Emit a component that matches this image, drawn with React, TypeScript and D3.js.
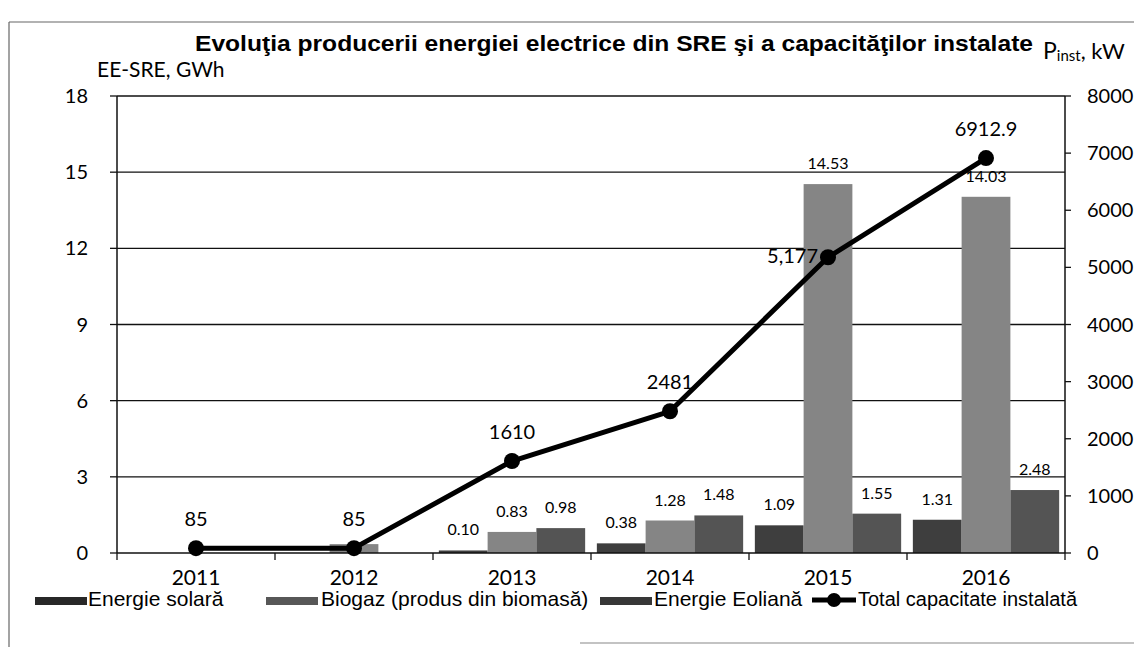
import React from 'react';
import * as d3 from 'd3';

// values
const years = ['2011', '2012', '2013', '2014', '2015', '2016'];
const solar = [0, 0, 0.10, 0.38, 1.09, 1.31];
const biogaz = [0, 0.35, 0.83, 1.28, 14.53, 14.03];
const eolian = [0, 0, 0.98, 1.48, 1.55, 2.48];
const totalCap = [85, 85, 1610, 2481, 5177, 6912.9];
const totalCapLabels = ['85', '85', '1610', '2481', '5,177', '6912.9'];
const capLabelSide = ['top', 'top', 'top', 'top', 'left', 'top'];
const leftTicks = [0, 3, 6, 9, 12, 15, 18];
const rightTicks = [0, 1000, 2000, 3000, 4000, 5000, 6000, 7000, 8000];

const seriesKeys = ['solar', 'biogaz', 'eolian'];
const seriesNames = ['Energie solară', 'Biogaz (produs din biomasă)', 'Energie Eoliană'];
const seriesValues = [solar, biogaz, eolian];
const seriesColors = ['#3e3e3e', '#858585', '#545454'];

const W = 1134;
const H = 647;
const plot = { left: 117, right: 1065, top: 96, bottom: 553 };
const calibri = 'Lato, Carlito, Calibri, sans-serif';
const arial = '"Liberation Sans", Arial, sans-serif';

export default function App() {
  const x = d3.scaleBand().domain(years).range([plot.left, plot.right]).padding(0);
  const xs = d3.scaleBand().domain(seriesKeys).range([0, x.bandwidth()]).paddingInner(0).paddingOuter(0.12);
  const yL = d3.scaleLinear().domain([0, 18]).range([plot.bottom, plot.top]);
  const yR = d3.scaleLinear().domain([0, 8000]).range([plot.bottom, plot.top]);

  const line = d3.line<number>()
    .x((d, i) => (x(years[i]) as number) + x.bandwidth() / 2)
    .y(d => yR(d));

  const boundaries = years.map(y => x(y) as number).concat([plot.right]);

  // legend layout (x offsets)
  const legend = [
    { sw: 35, tx: 88 },
    { sw: 266, tx: 321 },
    { sw: 600, tx: 654 },
  ];
  const legendY = 606;

  return (
    <svg width={W} height={H} style={{ position: 'absolute', left: 0, top: 0, background: '#fff' }}>
      {/* scan frame */}
      <line x1={9} y1={22} x2={W} y2={22} stroke="#666" strokeWidth={1.2} />
      <line x1={9} y1={22} x2={9} y2={H} stroke="#666" strokeWidth={1.2} />
      <line x1={580} y1={643} x2={W} y2={643} stroke="#888" strokeWidth={1.2} />

      <text x={195} y={51} textLength={838} lengthAdjust="spacingAndGlyphs" fontFamily={arial} fontWeight="bold" fontSize={22} fill="#000">
        Evoluţia producerii energiei electrice din SRE şi a capacităţilor instalate
      </text>
      <text x={97} y={77} fontFamily={calibri} fontSize={21} fill="#000">EE-SRE, GWh</text>
      <text x={1043} y={59} fontFamily={calibri} fill="#000">
        <tspan fontSize={23}>P</tspan>
        <tspan fontSize={15} dy={2}>inst</tspan>
        <tspan fontSize={22} dy={-2}>, kW</tspan>
      </text>

      {/* gridlines + left axis */}
      {leftTicks.map(t => (
        <g key={'l' + t}>
          {t > 0 && <line x1={plot.left} x2={plot.right} y1={yL(t)} y2={yL(t)} stroke="#111" strokeWidth={1.3} />}
          <line x1={plot.left - 7} x2={plot.left} y1={yL(t)} y2={yL(t)} stroke="#111" strokeWidth={1.3} />
          <text x={plot.left - 29} y={yL(t) + 7} textAnchor="end" fontFamily={calibri} fontSize={20} fill="#000">{t}</text>
        </g>
      ))}
      <line x1={plot.left} x2={plot.left} y1={plot.top} y2={plot.bottom} stroke="#111" strokeWidth={1.5} />

      {/* right axis */}
      {rightTicks.map(t => (
        <g key={'r' + t}>
          <line x1={plot.right} x2={plot.right + 6} y1={yR(t)} y2={yR(t)} stroke="#111" strokeWidth={1.3} />
          <text x={plot.right + 22} y={yR(t) + 7} fontFamily={calibri} fontSize={20} fill="#000">{t}</text>
        </g>
      ))}
      <line x1={plot.right} x2={plot.right} y1={plot.top} y2={plot.bottom} stroke="#111" strokeWidth={1.5} />

      {/* bars */}
      {years.map((yr, i) => (
        <g key={yr}>
          {seriesKeys.map((k, s) => {
            const v = seriesValues[s][i];
            if (v <= 0) return null;
            const bx = (x(yr) as number) + (xs(k) as number);
            return (
              <rect key={k} x={bx} y={yL(v)} width={xs.bandwidth()} height={plot.bottom - yL(v)} fill={seriesColors[s]} />
            );
          })}
        </g>
      ))}

      {/* x axis */}
      <line x1={plot.left} x2={plot.right} y1={plot.bottom} y2={plot.bottom} stroke="#111" strokeWidth={1.5} />
      {boundaries.map((b, i) => (
        <line key={'b' + i} x1={b} x2={b} y1={plot.bottom} y2={plot.bottom + 7} stroke="#111" strokeWidth={1.3} />
      ))}
      {years.map(yr => (
        <text key={'t' + yr} x={(x(yr) as number) + x.bandwidth() / 2} y={585} textAnchor="middle" fontFamily={calibri} fontSize={21} fill="#000">{yr}</text>
      ))}

      {/* bar labels */}
      {years.map((yr, i) => (
        <g key={'bl' + yr}>
          {seriesKeys.map((k, s) => {
            const v = seriesValues[s][i];
            if (i < 2) return null;
            const cx = (x(yr) as number) + (xs(k) as number) + xs.bandwidth() / 2;
            return (
              <text key={k} x={cx} y={yL(v) - 15} textAnchor="middle" fontFamily={calibri} fontSize={16} fill="#000">
                {v.toFixed(2)}
              </text>
            );
          })}
        </g>
      ))}

      {/* total capacity line */}
      <path d={line(totalCap) || ''} fill="none" stroke="#000" strokeWidth={5} strokeLinejoin="round" />
      {totalCap.map((v, i) => {
        const cx = (x(years[i]) as number) + x.bandwidth() / 2;
        const cy = yR(v);
        const left = capLabelSide[i] === 'left';
        return (
          <g key={'c' + i}>
            <circle cx={cx} cy={cy} r={8} fill="#000" />
            <text x={left ? cx - 10 : cx} y={left ? cy + 6 : cy - 22} textAnchor={left ? 'end' : 'middle'}
              fontFamily={calibri} fontSize={20} fill="#000">{totalCapLabels[i]}</text>
          </g>
        );
      })}

      {/* legend */}
      {seriesNames.map((n, s) => (
        <g key={'lg' + s}>
          <rect x={legend[s].sw} y={legendY - 9} width={52} height={8} fill={d3.color(seriesColors[s])!.darker(1.2).toString()} />
          <text x={legend[s].tx} y={legendY} fontFamily={arial} fontSize={21} fill="#000">{n}</text>
        </g>
      ))}
      <line x1={812} x2={856} y1={legendY - 6} y2={legendY - 6} stroke="#000" strokeWidth={5} />
      <circle cx={834} cy={legendY - 6} r={7} fill="#000" />
      <text x={858} y={legendY} fontFamily={arial} fontSize={20} fill="#000">Total capacitate instalată</text>
    </svg>
  );
}
